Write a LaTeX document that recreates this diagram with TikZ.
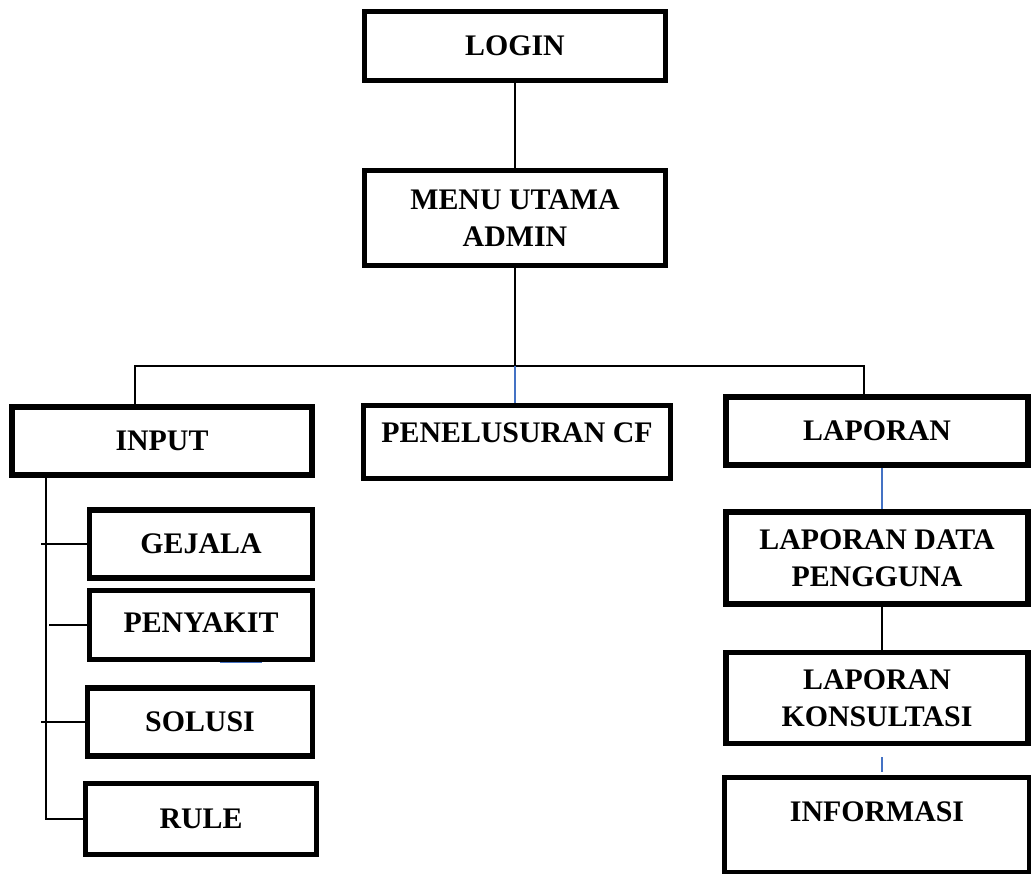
\documentclass[tikz,border=0pt]{standalone}
\usepackage{fontspec}
\setmainfont{Liberation Serif}
\usepackage{xcolor}
\definecolor{linkblue}{HTML}{4472C4}
\usepackage{tikz}
\tikzset{
menubox/.style={draw, line width=0.11cm, align=center, inner sep=0pt,
  font=\bfseries\fontsize{17}{21}\selectfont},
link/.style={line width=0.8pt},
bluelink/.style={line width=0.8pt, linkblue}
}

\begin{document}
\begin{tikzpicture}[x=0.02cm,y=-0.02cm]

\useasboundingbox (0,0) rectangle (1031,873);

\node[menubox, minimum width=6.02cm, minimum height=1.38cm] (login) at (515,46) {LOGIN};
\node[menubox, minimum width=6.02cm, minimum height=1.9cm] (admin) at (515,218) {MENU UTAMA\\ADMIN};

\node[menubox, minimum width=6cm, minimum height=1.36cm] (input) at (162,441) {INPUT};
\node[menubox, minimum width=6.14cm, minimum height=1.46cm, text depth=0.36cm] (cf) at (517,442) {PENELUSURAN CF};
\node[menubox, minimum width=6.04cm, minimum height=1.36cm] (laporan) at (877,431) {LAPORAN};

\node[menubox, minimum width=4.46cm, minimum height=1.36cm] (gejala) at (201,544) {GEJALA};
\node[menubox, minimum width=4.46cm, minimum height=1.38cm, text depth=0.1cm] (penyakit) at (201,625) {PENYAKIT};
\node[menubox, minimum width=4.5cm, minimum height=1.36cm] (solusi) at (200,722) {SOLUSI};
\node[menubox, minimum width=4.62cm, minimum height=1.42cm] (rule) at (201,819) {RULE};

\node[menubox, minimum width=6.04cm, minimum height=1.84cm] (lapdata) at (877,558) {LAPORAN DATA\\PENGGUNA};
\node[menubox, minimum width=6.04cm, minimum height=1.82cm] (lapkons) at (877,698) {LAPORAN\\KONSULTASI};
\node[menubox, minimum width=6.1cm, minimum height=1.9cm, text depth=0.52cm] (info) at (877,825) {INFORMASI};

\coordinate (hub) at (515,366);

\draw[link] (login) -- (admin);
\draw[link] (admin) -- (hub);
\draw[link] ([xshift=-0.54cm]input.north) |- (hub) -| ([xshift=-0.26cm]laporan.north);
\draw[bluelink] (hub) -- (hub |- cf.north);

% cabang input
\draw[link] ([xshift=-2.32cm]input.south) |- (rule.west);
\draw[link] (gejala.west) -- ++(-46,0);
\draw[link] (penyakit.west) -- ++(-38,0);
\draw[link] (solusi.west) -- ++(-44,0);
\draw[bluelink] ([xshift=0.38cm]penyakit.south) -- ++(42,0);

% cabang laporan
\draw[bluelink] ([xshift=0.1cm]laporan.south) -- ([xshift=0.1cm]lapdata.north);
\draw[link] ([xshift=0.1cm]lapdata.south) -- ([xshift=0.1cm]lapkons.north);
\draw[bluelink] ([xshift=0.1cm,yshift=-0.22cm]lapkons.south) -- ([xshift=0.1cm,yshift=0.06cm]info.north);

\end{tikzpicture}
\end{document}
